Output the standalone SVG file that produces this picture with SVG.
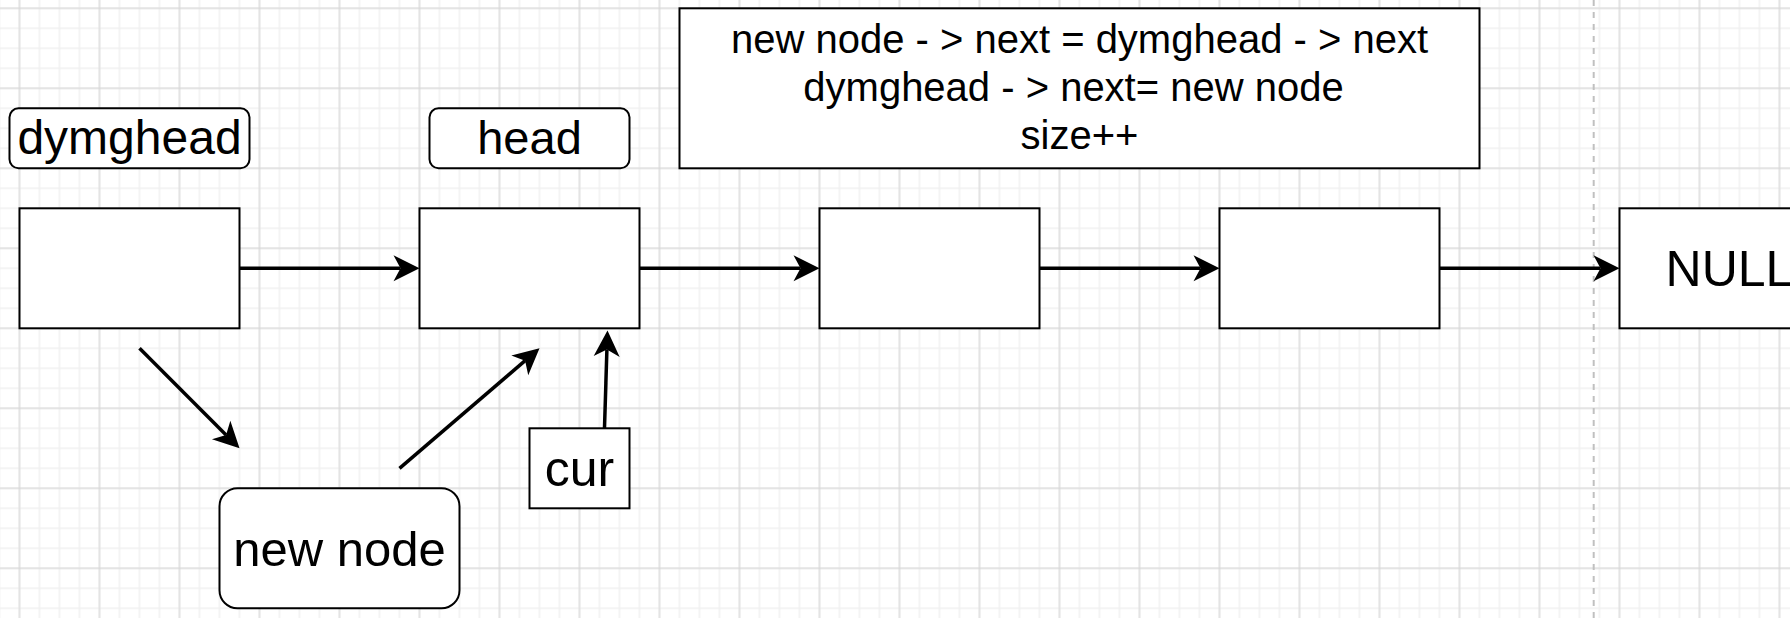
<svg xmlns="http://www.w3.org/2000/svg" width="1790" height="618" viewBox="0 0 1790 618">
<style>
.box{fill:#ffffff;stroke:#000000;stroke-width:2}
.t{font-family:"Liberation Sans",Arial,sans-serif;fill:#000000;text-anchor:middle}
.edge{fill:none;stroke:#000000;stroke-width:3.5;marker-end:url(#arr)}
</style>
<defs>
<pattern id="minor" patternUnits="userSpaceOnUse" x="9.5" y="-1.7" width="20" height="20">
<path d="M10 0V20M0 10H20" stroke="#f1f1f1" stroke-width="1.6" fill="none"/>
</pattern>
<pattern id="major" patternUnits="userSpaceOnUse" x="-20.5" y="-31.7" width="80" height="80">
<path d="M40 0V80M0 40H80" stroke="#d3d3d3" stroke-width="1" fill="none"/>
</pattern>
<marker id="arr" markerUnits="userSpaceOnUse" viewBox="-8 -14 28 28" refX="0" refY="0" markerWidth="28" markerHeight="28" orient="auto">
<path d="M19 0L-7 -13L0 0L-7 13Z" fill="#000000"/>
</marker>
</defs>
<rect width="1790" height="618" fill="#ffffff"/>
<rect width="1790" height="618" fill="url(#minor)"/>
<rect width="1790" height="618" fill="url(#major)"/>
<line x1="1593.7" y1="0" x2="1593.7" y2="618" stroke="#c0c0c0" stroke-width="2" stroke-dasharray="6 6"/>

<g id="connectors">
<path class="edge" d="M239.5 268.3H400.5"/>
<path class="edge" d="M639.5 268.3H800.5"/>
<path class="edge" d="M1039.5 268.3H1200.5"/>
<path class="edge" d="M1439.5 268.3H1600.5"/>
<path class="edge" d="M139.5 348.3L226.1 434.9"/>
<path class="edge" d="M399.5 468.3L525.1 360.7"/>
<path class="edge" d="M604.5 428.3L606.9 349.5"/>
</g>

<g id="code">
<rect class="box" x="679.5" y="8.3" width="800" height="160"/>
<text class="t" font-size="40" x="1079.5" y="53.3">new node - &gt; next = dymghead - &gt; next</text>
<text class="t" font-size="40" x="1073.5" y="101.3">dymghead - &gt; next= new node</text>
<text class="t" font-size="40" x="1079.5" y="149.3">size++</text>
</g>

<g id="label-dymghead">
<rect class="box" x="9.5" y="108.3" width="240" height="60" rx="9"/>
<text class="t" font-size="48" x="129.5" y="154.3">dymghead</text>
</g>
<g id="label-head">
<rect class="box" x="429.5" y="108.3" width="200" height="60" rx="9"/>
<text class="t" font-size="47" x="529.5" y="154.3">head</text>
</g>

<g id="node1"><rect class="box" x="19.5" y="208.3" width="220" height="120"/></g>
<g id="node2"><rect class="box" x="419.5" y="208.3" width="220" height="120"/></g>
<g id="node3"><rect class="box" x="819.5" y="208.3" width="220" height="120"/></g>
<g id="node4"><rect class="box" x="1219.5" y="208.3" width="220" height="120"/></g>
<g id="null">
<rect class="box" x="1619.5" y="208.3" width="220" height="120"/>
<text class="t" font-size="50" x="1729.5" y="286.3">NULL</text>
</g>

<g id="new-node">
<rect class="box" x="219.5" y="488.3" width="240" height="120" rx="18"/>
<text class="t" font-size="49" x="339.5" y="565.7">new node</text>
</g>
<g id="cur">
<rect class="box" x="529.5" y="428.3" width="100" height="80"/>
<text class="t" font-size="50" x="579.5" y="486">cur</text>
</g>
</svg>
